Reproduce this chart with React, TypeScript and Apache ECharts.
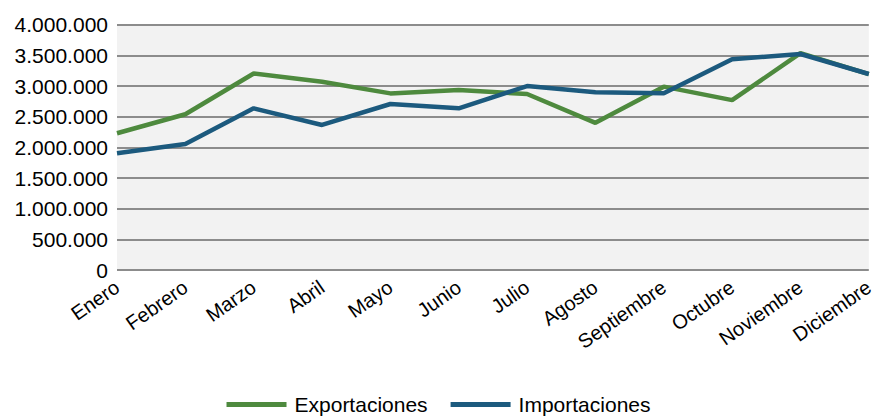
import React, { useEffect, useRef } from "react";
import * as echarts from "echarts";

const categories = ["Enero", "Febrero", "Marzo", "Abril", "Mayo", "Junio", "Julio", "Agosto", "Septiembre", "Octubre", "Noviembre", "Diciembre"];
const exportaciones = [2230000, 2540000, 3205000, 3070000, 2880000, 2935000, 2870000, 2400000, 2990000, 2770000, 3535000, 3195000];
const importaciones = [1905000, 2055000, 2636000, 2365000, 2707000, 2636000, 3000000, 2897000, 2881000, 3435000, 3522000, 3196000];
const seriesNames = ["Exportaciones", "Importaciones"];
const colors = ["#4e8a3e", "#1c5a7e"];

const fmt = (v: number) => String(v).replace(/\B(?=(\d{3})+(?!\d))/g, ".");

export default function App() {
  const ref = useRef<HTMLDivElement>(null);
  useEffect(() => {
    if (!ref.current) return;
    const chart = echarts.init(ref.current, null, { renderer: "svg" });
    const font = "'Liberation Sans', Arial, sans-serif";
    chart.setOption({
      animation: false,
      backgroundColor: "#ffffff",
      textStyle: { fontFamily: font },
      grid: {
        left: 117,
        right: 4,
        top: 24.7,
        bottom: 146,
        show: true,
        backgroundColor: "#f2f2f2",
        borderWidth: 0,
      },
      legend: {
        top: 389,
        left: "center",
        icon: "rect",
        itemWidth: 60,
        itemHeight: 5,
        itemGap: 23,
        textStyle: { fontFamily: font, fontSize: 21, color: "#000", padding: [0, 0, 0, 3] },
        data: seriesNames,
      },
      xAxis: {
        type: "category",
        data: categories,
        boundaryGap: false,
        axisLine: { show: false },
        axisTick: { show: false },
        axisLabel: {
          rotate: 35,
          interval: 0,
          fontSize: 20,
          color: "#000",
          fontFamily: font,
          margin: 15,
        },
      },
      yAxis: {
        type: "value",
        min: 0,
        max: 4000000,
        interval: 500000,
        axisLine: { show: false },
        axisTick: { show: false },
        splitLine: { lineStyle: { color: "#8c8c8c", width: 2 } },
        axisLabel: {
          fontSize: 21,
          color: "#000",
          fontFamily: font,
          margin: 9,
          formatter: (v: number) => fmt(v),
        },
      },
      series: [
        {
          name: seriesNames[0],
          type: "line",
          data: exportaciones,
          showSymbol: false,
          symbol: "none",
          lineStyle: { color: colors[0], width: 4.5 },
          itemStyle: { color: colors[0] },
        },
        {
          name: seriesNames[1],
          type: "line",
          data: importaciones,
          showSymbol: false,
          symbol: "none",
          lineStyle: { color: colors[1], width: 4.5 },
          itemStyle: { color: colors[1] },
        },
      ],
    });
    return () => chart.dispose();
  }, []);
  return (
    <div
      ref={ref}
      style={{ position: "fixed", left: 0, top: 0, width: 877, height: 416 }}
    />
  );
}
